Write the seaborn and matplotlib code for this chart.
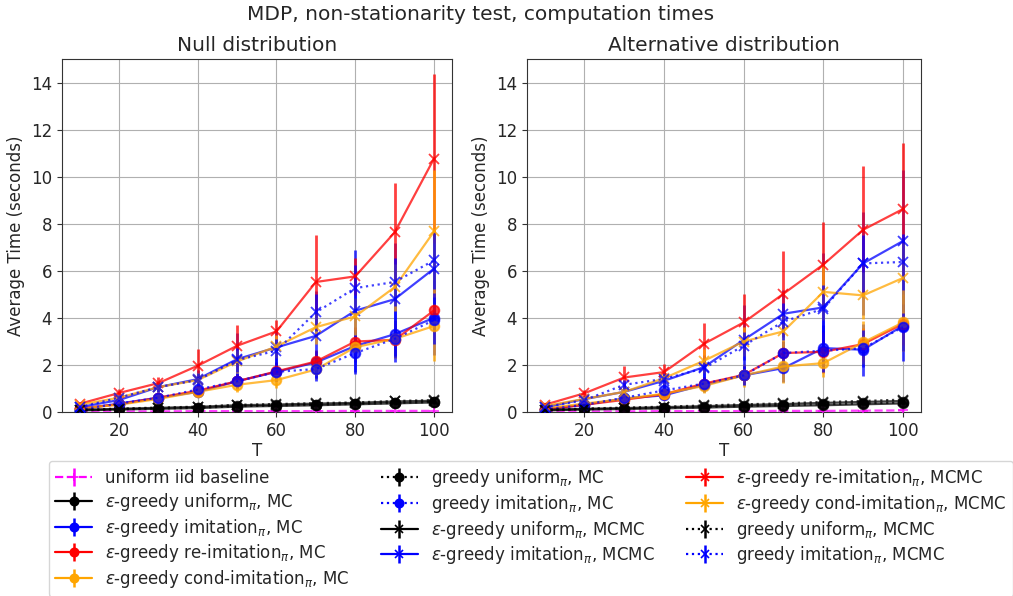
import matplotlib
matplotlib.use("Agg")
import matplotlib.pyplot as plt
from matplotlib.lines import Line2D
from matplotlib.legend_handler import HandlerTuple
import seaborn as sns

sns.set_style("ticks", {"axes.grid": True, "grid.color": "#b0b0b0", "axes.edgecolor": "#333333"})
plt.rcParams["font.family"] = ["DejaVu Sans"]
plt.rcParams["mathtext.fontset"] = "dejavusans"

T = [10, 20, 30, 40, 50, 60, 70, 80, 90, 100]

labels = [
    "uniform iid baseline",
    r"$\varepsilon$-greedy uniform$_\pi$, MC",
    r"$\varepsilon$-greedy imitation$_\pi$, MC",
    r"$\varepsilon$-greedy re-imitation$_\pi$, MC",
    r"$\varepsilon$-greedy cond-imitation$_\pi$, MC",
    r"greedy uniform$_\pi$, MC",
    r"greedy imitation$_\pi$, MC",
    r"$\varepsilon$-greedy uniform$_\pi$, MCMC",
    r"$\varepsilon$-greedy imitation$_\pi$, MCMC",
    r"$\varepsilon$-greedy re-imitation$_\pi$, MCMC",
    r"$\varepsilon$-greedy cond-imitation$_\pi$, MCMC",
    r"greedy uniform$_\pi$, MCMC",
    r"greedy imitation$_\pi$, MCMC",
]

# ---- Null distribution: means ----
null_baseline = [0.02, 0.02, 0.02, 0.03, 0.03, 0.03, 0.03, 0.04, 0.04, 0.04]
null_eg_unif_mc = [0.06, 0.10, 0.13, 0.16, 0.22, 0.25, 0.28, 0.32, 0.36, 0.40]
null_eg_imit_mc = [0.10, 0.35, 0.60, 0.85, 1.30, 1.70, 2.10, 2.80, 3.30, 4.00]
null_eg_reimit_mc = [0.15, 0.32, 0.60, 0.90, 1.30, 1.72, 2.14, 2.99, 3.06, 4.31]
null_eg_cond_mc = [0.15, 0.30, 0.55, 0.85, 1.15, 1.35, 1.80, 2.75, 3.10, 3.65]
null_g_unif_mc = [0.06, 0.11, 0.14, 0.17, 0.24, 0.27, 0.30, 0.34, 0.38, 0.42]
null_g_imit_mc = [0.10, 0.35, 0.60, 0.95, 1.30, 1.70, 1.82, 2.50, 3.10, 3.90]
null_eg_unif_mcmc = [0.08, 0.13, 0.17, 0.21, 0.28, 0.31, 0.35, 0.38, 0.44, 0.47]
null_eg_imit_mcmc = [0.20, 0.50, 1.05, 1.39, 2.24, 2.74, 3.23, 4.30, 4.79, 6.09]
null_eg_reimit_mcmc = [0.34, 0.80, 1.22, 1.96, 2.81, 3.42, 5.52, 5.76, 7.63, 10.77]
null_eg_cond_mcmc = [0.30, 0.60, 1.05, 1.35, 2.14, 2.78, 3.60, 4.06, 5.30, 7.67]
null_g_unif_mcmc = [0.08, 0.14, 0.18, 0.22, 0.30, 0.33, 0.37, 0.40, 0.46, 0.50]
null_g_imit_mcmc = [0.20, 0.60, 1.05, 1.35, 2.20, 2.60, 4.23, 5.26, 5.52, 6.44]

# ---- Null distribution: error bars ----
null_baseline_err = [0.01, 0.01, 0.01, 0.01, 0.01, 0.01, 0.01, 0.01, 0.01, 0.01]
null_eg_unif_mc_err = [0.02, 0.02, 0.03, 0.03, 0.04, 0.04, 0.05, 0.05, 0.05, 0.06]
null_eg_imit_mc_err = [0.05, 0.10, 0.15, 0.20, 0.35, 0.40, 0.50, 0.70, 1.20, 1.60]
null_eg_reimit_mc_err = [0.05, 0.10, 0.15, 0.20, 0.30, 0.40, 0.50, 0.60, 0.70, 0.90]
null_eg_cond_mc_err = [0.05, 0.10, 0.15, 0.20, 0.30, 0.35, 0.40, 0.60, 0.80, 1.50]
null_g_unif_mc_err = [0.02, 0.02, 0.03, 0.03, 0.04, 0.04, 0.05, 0.05, 0.05, 0.06]
null_g_imit_mc_err = [0.05, 0.10, 0.15, 0.20, 0.30, 0.40, 0.40, 0.90, 0.80, 1.00]
null_eg_unif_mcmc_err = [0.02, 0.03, 0.03, 0.04, 0.05, 0.05, 0.06, 0.06, 0.07, 0.07]
null_eg_imit_mcmc_err = [0.05, 0.15, 0.20, 0.40, 1.10, 0.80, 1.90, 2.60, 2.40, 1.50]
null_eg_reimit_mcmc_err = [0.05, 0.15, 0.25, 0.70, 0.90, 0.50, 2.00, 0.80, 2.10, 3.60]
null_eg_cond_mcmc_err = [0.05, 0.10, 0.20, 0.30, 0.50, 0.50, 0.70, 0.80, 1.00, 2.60]
null_g_unif_mcmc_err = [0.02, 0.03, 0.03, 0.04, 0.05, 0.05, 0.06, 0.06, 0.07, 0.07]
null_g_imit_mcmc_err = [0.05, 0.10, 0.20, 0.30, 0.50, 0.50, 0.80, 1.00, 1.00, 1.20]

# ---- Alternative distribution: means ----
alt_baseline = [0.02, 0.02, 0.02, 0.03, 0.03, 0.03, 0.04, 0.04, 0.05, 0.06]
alt_eg_unif_mc = [0.06, 0.10, 0.12, 0.15, 0.18, 0.22, 0.25, 0.28, 0.32, 0.36]
alt_eg_imit_mc = [0.10, 0.30, 0.57, 0.70, 1.15, 1.55, 1.86, 2.71, 2.64, 3.66]
alt_eg_reimit_mc = [0.10, 0.30, 0.51, 0.75, 1.20, 1.57, 2.50, 2.55, 2.88, 3.74]
alt_eg_cond_mc = [0.15, 0.35, 0.55, 0.77, 1.10, 1.55, 1.93, 2.07, 2.95, 3.80]
alt_g_unif_mc = [0.06, 0.11, 0.14, 0.17, 0.20, 0.25, 0.28, 0.32, 0.36, 0.40]
alt_g_imit_mc = [0.10, 0.30, 0.60, 0.91, 1.20, 1.55, 2.50, 2.60, 2.70, 3.60]
alt_eg_unif_mcmc = [0.08, 0.13, 0.16, 0.20, 0.24, 0.29, 0.33, 0.38, 0.42, 0.46]
alt_eg_imit_mcmc = [0.20, 0.54, 0.85, 1.32, 1.90, 3.06, 4.17, 4.44, 6.31, 7.26]
alt_eg_reimit_mcmc = [0.30, 0.79, 1.46, 1.69, 2.89, 3.80, 5.02, 6.26, 7.74, 8.62]
alt_eg_cond_mcmc = [0.25, 0.55, 0.85, 1.43, 2.17, 2.99, 3.42, 5.10, 4.95, 5.69]
alt_g_unif_mcmc = [0.08, 0.14, 0.18, 0.22, 0.27, 0.32, 0.36, 0.42, 0.46, 0.52]
alt_g_imit_mcmc = [0.20, 0.50, 1.15, 1.40, 1.85, 2.81, 3.84, 4.38, 6.31, 6.37]

# ---- Alternative distribution: error bars ----
alt_baseline_err = [0.01, 0.01, 0.01, 0.01, 0.01, 0.01, 0.01, 0.01, 0.01, 0.02]
alt_eg_unif_mc_err = [0.02, 0.02, 0.03, 0.03, 0.04, 0.04, 0.05, 0.05, 0.05, 0.06]
alt_eg_imit_mc_err = [0.05, 0.10, 0.15, 0.20, 0.30, 0.40, 0.60, 1.00, 1.10, 1.50]
alt_eg_reimit_mc_err = [0.05, 0.10, 0.15, 0.20, 0.30, 0.40, 0.50, 0.90, 0.70, 0.90]
alt_eg_cond_mc_err = [0.05, 0.10, 0.15, 0.20, 0.30, 0.50, 0.70, 0.60, 0.90, 1.20]
alt_g_unif_mc_err = [0.02, 0.02, 0.03, 0.03, 0.04, 0.04, 0.05, 0.05, 0.05, 0.06]
alt_g_imit_mc_err = [0.05, 0.10, 0.15, 0.20, 0.30, 0.40, 0.50, 0.90, 0.80, 1.00]
alt_eg_unif_mcmc_err = [0.02, 0.03, 0.03, 0.04, 0.05, 0.05, 0.06, 0.06, 0.07, 0.07]
alt_eg_imit_mcmc_err = [0.05, 0.15, 0.20, 0.30, 0.50, 1.50, 1.00, 2.30, 2.20, 3.00]
alt_eg_reimit_mcmc_err = [0.05, 0.15, 0.50, 0.35, 0.90, 1.20, 1.80, 1.80, 2.70, 2.80]
alt_eg_cond_mcmc_err = [0.05, 0.10, 0.20, 0.30, 0.50, 0.60, 0.80, 1.20, 1.00, 1.50]
alt_g_unif_mcmc_err = [0.02, 0.03, 0.03, 0.04, 0.05, 0.05, 0.06, 0.06, 0.07, 0.07]
alt_g_imit_mcmc_err = [0.05, 0.10, 0.20, 0.30, 0.40, 0.60, 0.80, 1.00, 1.20, 1.20]

colors = ["magenta", "black", "blue", "red", "orange", "black", "blue",
          "black", "blue", "red", "orange", "black", "blue"]
styles = ["--", "-", "-", "-", "-", ":", ":", "-", "-", "-", "-", ":", ":"]
markers = ["+", "o", "o", "o", "o", "o", "o", "x", "x", "x", "x", "x", "x"]

null_means = [null_baseline, null_eg_unif_mc, null_eg_imit_mc, null_eg_reimit_mc, null_eg_cond_mc,
              null_g_unif_mc, null_g_imit_mc, null_eg_unif_mcmc, null_eg_imit_mcmc,
              null_eg_reimit_mcmc, null_eg_cond_mcmc, null_g_unif_mcmc, null_g_imit_mcmc]
null_errs = [null_baseline_err, null_eg_unif_mc_err, null_eg_imit_mc_err, null_eg_reimit_mc_err,
             null_eg_cond_mc_err, null_g_unif_mc_err, null_g_imit_mc_err, null_eg_unif_mcmc_err,
             null_eg_imit_mcmc_err, null_eg_reimit_mcmc_err, null_eg_cond_mcmc_err,
             null_g_unif_mcmc_err, null_g_imit_mcmc_err]
alt_means = [alt_baseline, alt_eg_unif_mc, alt_eg_imit_mc, alt_eg_reimit_mc, alt_eg_cond_mc,
             alt_g_unif_mc, alt_g_imit_mc, alt_eg_unif_mcmc, alt_eg_imit_mcmc,
             alt_eg_reimit_mcmc, alt_eg_cond_mcmc, alt_g_unif_mcmc, alt_g_imit_mcmc]
alt_errs = [alt_baseline_err, alt_eg_unif_mc_err, alt_eg_imit_mc_err, alt_eg_reimit_mc_err,
            alt_eg_cond_mc_err, alt_g_unif_mc_err, alt_g_imit_mc_err, alt_eg_unif_mcmc_err,
            alt_eg_imit_mcmc_err, alt_eg_reimit_mcmc_err, alt_eg_cond_mcmc_err,
            alt_g_unif_mcmc_err, alt_g_imit_mcmc_err]

fig = plt.figure(figsize=(10.13, 5.96), dpi=100)
ax1 = fig.add_axes([0.061, 0.309, 0.385, 0.592])
ax2 = fig.add_axes([0.520, 0.309, 0.389, 0.592])

ALPHA = 0.75


def draw(ax, means, errs, title):
    for m, e, c, ls, mk in zip(means, errs, colors, styles, markers):
        ax.errorbar(T, m, yerr=e, fmt="none", ecolor=c, elinewidth=2.0, alpha=ALPHA, zorder=2)
        sns.lineplot(x=T, y=m, ax=ax, color=c, linestyle=ls, linewidth=1.6,
                     marker=mk, markersize=7,
                     markeredgecolor=c, markerfacecolor=c,
                     markeredgewidth=1.3, alpha=ALPHA, zorder=3)
    ax.set_ylim(0, 15)
    ax.set_xlim(5.5, 104.5)
    ax.set_xticks([20, 40, 60, 80, 100])
    ax.set_yticks([0, 2, 4, 6, 8, 10, 12, 14])
    ax.set_title(title, fontsize=14.5)
    ax.set_xlabel("T", fontsize=12, labelpad=2)
    ax.set_ylabel("Average Time (seconds)", fontsize=12)
    ax.tick_params(labelsize=12, length=3.5, width=0.8, color="#333333")
    for sp in ax.spines.values():
        sp.set_linewidth(0.8)
    ax.grid(True, color="#b0b0b0", linewidth=0.8)


draw(ax1, null_means, null_errs, "Null distribution")
draw(ax2, alt_means, alt_errs, "Alternative distribution")

fig.text(0.474, 0.975, "MDP, non-stationarity test, computation times", fontsize=14.5,
         ha="center", va="center")

handles = []
for c, ls, mk in zip(colors, styles, markers):
    ln = Line2D([], [], color=c, linestyle=ls, linewidth=1.6, marker=mk, markersize=6,
                markeredgecolor=c, markerfacecolor=c, markeredgewidth=1.2)
    bar = Line2D([], [], color=c, linestyle="none", marker="|", markersize=13, markeredgewidth=1.8)
    handles.append((ln, bar))

fig.legend(handles, labels, loc="lower center", bbox_to_anchor=(0.524, -0.015), ncol=3,
           fontsize=12, handler_map={tuple: HandlerTuple(ndivide=1)},
           frameon=True, edgecolor="#cccccc", fancybox=True, columnspacing=1.9,
           handlelength=2.2, labelspacing=0.22)

fig.savefig("out.png", dpi=100)
